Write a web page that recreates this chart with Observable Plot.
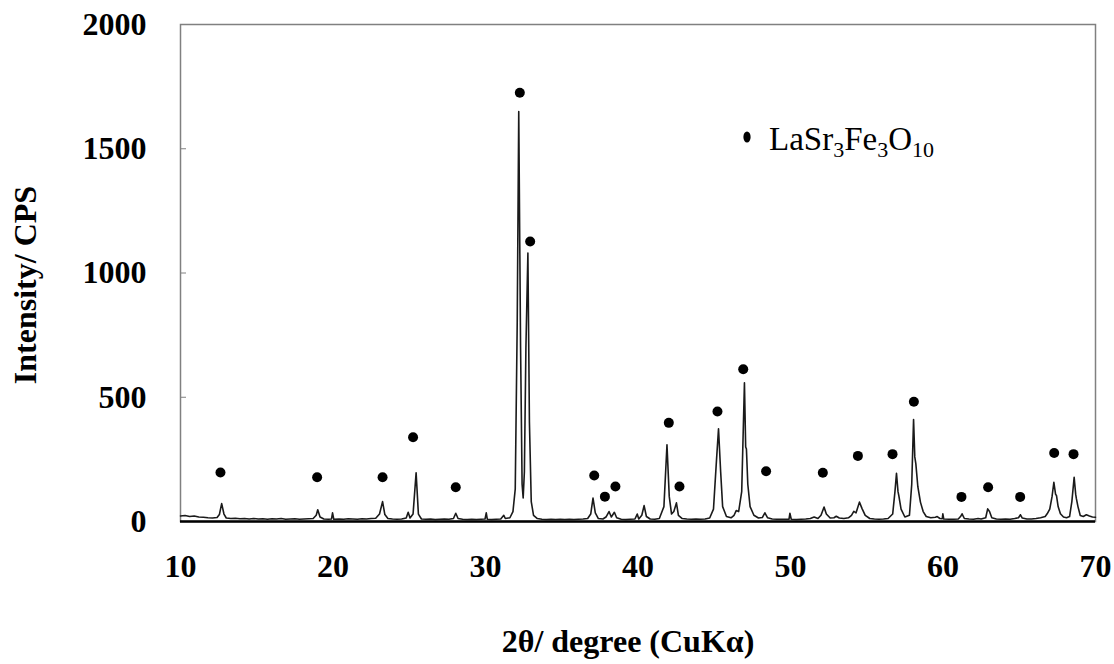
<!DOCTYPE html>
<html>
<head>
<meta charset="utf-8">
<script src="https://cdn.jsdelivr.net/npm/d3@7"></script>
<script src="https://cdn.jsdelivr.net/npm/@observablehq/plot@0.6"></script>
<style>
  html, body { margin: 0; padding: 0; background: white; }
</style>
</head>
<body>
<div id="chart"></div>
<script>
// XRD pattern: [2θ (degree), intensity (CPS)]
const pattern = [
  [10.0,22],[10.3,24],[10.6,20],[10.9,22],[11.2,18],[11.5,17],[11.8,15],[12.1,14],[12.4,16],[12.55,28],[12.7,72],[12.85,30],[13.0,14],
  [13.3,12],[13.6,13],[13.9,11],[14.2,12],[14.5,10],[14.8,12],[15.1,10],[15.4,11],[15.7,9],[16.0,11],[16.3,10],[16.6,12],[16.9,9],
  [17.2,10],[17.5,11],[17.8,9],[18.1,10],[18.4,11],[18.7,12],[18.9,25],[19.0,47],[19.15,18],[19.4,10],[19.7,9],[19.9,10],[19.97,35],
  [20.05,9],[20.4,10],[20.7,9],[21.0,11],[21.3,10],[21.6,9],[21.9,11],[22.2,10],[22.5,12],[22.8,13],[23.05,30],[23.25,80],[23.4,28],
  [23.6,12],[23.9,10],[24.2,9],[24.5,10],[24.8,14],[24.93,37],[25.05,14],[25.25,30],[25.45,196],[25.6,30],[25.8,10],[26.1,9],[26.4,10],
  [26.7,8],[27.0,9],[27.3,10],[27.6,9],[27.9,12],[28.05,33],[28.2,12],[28.5,9],[28.8,8],[29.1,9],[29.4,8],[29.7,9],[29.97,10],[30.05,35],
  [30.12,9],[30.4,8],[30.7,9],[31.0,10],[31.2,25],[31.3,12],[31.6,15],[31.8,40],[31.95,130],[32.08,800],[32.18,1650],[32.3,700],[32.4,150],
  [32.47,95],[32.55,200],[32.65,700],[32.78,1080],[32.88,400],[33.0,80],[33.15,25],[33.4,12],[33.7,9],[34.0,8],[34.3,9],[34.6,8],[34.9,9],
  [35.2,8],[35.5,9],[35.8,8],[36.1,9],[36.4,10],[36.7,12],[36.9,30],[37.05,94],[37.2,35],[37.4,12],[37.7,10],[37.9,18],[38.1,40],[38.25,18],
  [38.45,37],[38.6,15],[38.9,9],[39.2,8],[39.5,9],[39.8,10],[39.95,30],[40.05,10],[40.25,25],[40.4,64],[40.55,20],[40.8,10],[41.1,9],
  [41.4,12],[41.7,60],[41.9,309],[42.05,100],[42.2,30],[42.35,40],[42.52,75],[42.65,25],[42.9,12],[43.2,10],[43.5,9],[43.8,10],[44.1,9],
  [44.4,10],[44.7,14],[44.95,50],[45.15,250],[45.28,373],[45.42,200],[45.55,60],[45.8,20],[46.1,15],[46.3,25],[46.44,44],[46.6,40],
  [46.8,120],[46.98,558],[47.06,300],[47.11,292],[47.2,150],[47.35,60],[47.6,25],[47.9,14],[48.15,16],[48.32,35],[48.5,15],[48.8,10],
  [49.1,9],[49.4,9],[49.7,9],[49.9,9],[49.96,33],[50.05,9],[50.4,8],[50.7,9],[51.0,10],[51.3,12],[51.55,18],[51.8,12],[52.0,25],[52.2,58],
  [52.35,30],[52.6,14],[52.85,15],[53.0,21],[53.2,14],[53.5,12],[53.8,15],[54.0,25],[54.15,41],[54.3,35],[54.52,78],[54.7,51],[54.9,25],
  [55.2,12],[55.5,10],[55.8,9],[56.1,10],[56.4,12],[56.7,30],[56.85,120],[56.95,194],[57.05,120],[57.1,105],[57.25,50],[57.5,18],[57.8,25],
  [57.95,150],[58.07,410],[58.15,260],[58.22,232],[58.35,140],[58.52,78],[58.7,40],[58.9,20],[59.2,15],[59.5,17],[59.62,20],[59.8,12],
  [59.95,11],[59.99,31],[60.05,10],[60.4,9],[60.7,9],[61.0,10],[61.15,20],[61.25,31],[61.4,12],[61.7,10],[62.0,9],[62.3,12],[62.5,10],
  [62.8,15],[62.93,51],[63.05,40],[63.2,15],[63.5,10],[63.8,9],[64.1,10],[64.4,9],[64.7,12],[64.95,15],[65.08,27],[65.2,14],[65.5,10],
  [65.8,10],[66.1,12],[66.4,15],[66.7,20],[66.83,31],[67.0,50],[67.15,100],[67.27,158],[67.38,110],[67.44,105],[67.55,60],[67.7,31],
  [67.9,18],[68.1,15],[68.3,20],[68.45,80],[68.6,178],[68.7,110],[68.75,91],[68.85,60],[69.0,24],[69.2,20],[69.4,27],[69.6,22],[69.8,18],[70.0,17]
];

// Phase markers (LaSr3Fe3O10) placed above peaks
const markAngles  = [12.62,18.96,23.25,25.25,28.05,32.25,32.93,37.13,37.83,38.52,42.02,42.72,45.21,46.9,48.4,52.12,54.42,56.69,58.09,61.21,62.96,65.06,67.29,68.56];
const markHeights = [197,178,178,339,138,1725,1127,185,100,141,397,141,443,613,202,196,264,271,482,99,138,99,276,271];

const xTicks = [10,20,30,40,50,60,70];
const yTicks = [0,500,1000,1500,2000];

const xTitle = "2θ/ degree (CuKα)";
const yTitle = "Intensity/ CPS";

const serif = "'Liberation Serif', 'Times New Roman', Times, serif";

const chart = Plot.plot({
  width: 1114,
  height: 664,
  marginLeft: 180,
  marginRight: 19,
  marginTop: 24,
  marginBottom: 143,
  style: { background: "white", color: "black" },
  x: { domain: [10, 70] },
  y: { domain: [0, 2000] },
  marks: [
    Plot.frame({ stroke: "#808080", strokeWidth: 1.5 }),
    Plot.axisX({ ticks: xTicks, tickFormat: d => String(d), tickSize: 0, tickPadding: 33, fontSize: 32, fontWeight: "bold", label: null, fill: "black" }),
    Plot.axisY({ ticks: yTicks, tickFormat: d => String(d), tickSize: -6, tickPadding: 40, fontSize: 32, fontWeight: "bold", label: null, fill: "black", stroke: "#808080" }),
    Plot.line(pattern, { x: d => d[0], y: d => d[1], stroke: "#1a1a1a", strokeWidth: 1.6 }),
    Plot.ruleY([0], { stroke: "black", strokeWidth: 2.5 }),
    Plot.dot(markAngles, { x: markAngles, y: markHeights, r: 5, fill: "black", stroke: "none" }),
    Plot.text([xTitle], { frameAnchor: "bottom", textAnchor: "middle", dy: 130, dx: -10, fontSize: 32, fontWeight: "bold", fill: "black" }),
    Plot.text([yTitle], { frameAnchor: "left", textAnchor: "middle", dx: -155, dy: 12, rotate: -90, fontSize: 32, fontWeight: "bold", fill: "black" })
  ]
});

document.getElementById("chart").appendChild(chart);

const svg = d3.select(chart);
// serif face on every text of the chart
svg.style("font-family", serif);
svg.selectAll("g, text").attr("font-family", null).style("font-family", serif);

// Legend with subscripted formula
const lg = svg.append("g").attr("fill", "black").style("font-family", serif);
lg.append("ellipse").attr("cx", 747).attr("cy", 137).attr("rx", 3.6).attr("ry", 5.5);
const t = lg.append("text").attr("x", 769).attr("y", 150).attr("font-size", 33).attr("text-anchor", "start").style("font-family", serif);
const parts = [["LaSr", false], ["3", true], ["Fe", false], ["3", true], ["O", false], ["10", true]];
parts.forEach(([s, sub], i) => {
  const sp = t.append("tspan").text(s);
  if (sub) sp.attr("font-size", 22).attr("dy", 7);
  else if (i > 0) sp.attr("dy", -7);
});
</script>
</body>
</html>
